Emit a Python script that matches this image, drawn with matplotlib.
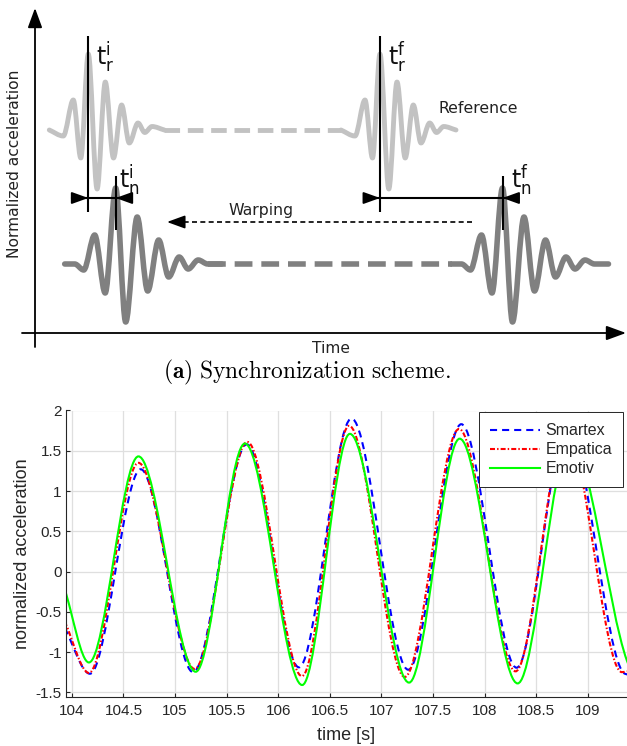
"""Synchronization scheme sketch (a) and the three aligned acceleration signals."""

import matplotlib

matplotlib.use("Agg")
import matplotlib.pyplot as plt
import numpy as np
from matplotlib.lines import Line2D
from matplotlib.patches import PathPatch
from matplotlib.path import Path

plt.rcParams["font.family"] = ["Liberation Sans", "DejaVu Sans"]

# ---- (a) sketch, in pixel units of the top panel ----
# reference wavelet: knot offsets from its main peak, and heights
ref_dx = [-39, -25, -15, -7.5, 0, 8.8, 17, 25.2, 33.3, 41, 49.7, 56.5, 63.7, 76]
ref_y = [130, 136, 100, 158, 54, 189, 82, 158, 105, 143, 123, 132.5, 126.5, 130]
ref_peaks = [88.3, 380.0]

# noisy (to be warped) wavelet
sig_dx = [-51, -41, -32, -21, -10.5, 0, 10, 21.5, 32, 43, 53, 63.5, 72.5, 82.5, 92, 106]
sig_y = [264, 264, 270, 235, 293, 188, 322, 217, 291, 240, 277, 257, 269, 260, 264, 264]
sig_peaks = [115.7, 502.5]

# ---- (b) acceleration traces: turning points ----
t_smartex = [103.93, 104.175, 104.667, 105.175, 105.695, 106.20, 106.71,
             107.26, 107.774, 108.31, 108.80, 109.36, 109.42]
v_smartex = [-0.70, -1.27, 1.27, -1.25, 1.58, -1.19, 1.90,
             -1.22, 1.83, -1.195, 1.80, -1.27, -1.29]

t_empatica = [103.93, 104.165, 104.645, 105.19, 105.70, 106.23, 106.687,
              107.226, 107.752, 108.30, 108.79, 109.33, 109.38]
v_empatica = [-0.62, -1.26, 1.35, -1.21, 1.61, -1.30, 1.81,
              -1.31, 1.77, -1.24, 1.75, -1.25, -1.24]

t_emotiv = [103.93, 104.165, 104.645, 105.20, 105.677, 106.232, 106.694,
            107.268, 107.758, 108.32, 108.83, 109.38, 109.47]
v_emotiv = [-0.22, -1.13, 1.43, -1.245, 1.59, -1.41, 1.71,
            -1.38, 1.65, -1.39, 1.62, -1.11, -1.38]

x_ticks = [104, 104.5, 105, 105.5, 106, 106.5, 107, 107.5, 108, 108.5, 109]
x_ticklabels = ["104", "104.5", "105", "105.5", "106", "106.5", "107",
                "107.5", "108", "108.5", "109"]
y_ticks = [-1.5, -1, -0.5, 0, 0.5, 1, 1.5, 2]
y_ticklabels = ["-1.5", "-1", "-0.5", "0", "0.5", "1", "1.5", "2"]


def smooth_path(xs, ys):
    """Monotone cubic through the knots, as a Bezier path."""
    xs = np.asarray(xs, float)
    ys = np.asarray(ys, float)
    h = np.diff(xs)
    d = np.diff(ys) / h
    m = np.zeros_like(ys)
    m[0], m[-1] = d[0], d[-1]
    for i in range(1, len(ys) - 1):
        if d[i - 1] * d[i] > 0:
            w1, w2 = 2 * h[i] + h[i - 1], h[i] + 2 * h[i - 1]
            m[i] = (w1 + w2) / (w1 / d[i - 1] + w2 / d[i])
    verts = [(xs[0], ys[0])]
    for i in range(len(h)):
        verts += [
            (xs[i] + h[i] / 3, ys[i] + m[i] * h[i] / 3),
            (xs[i + 1] - h[i] / 3, ys[i + 1] - m[i + 1] * h[i] / 3),
            (xs[i + 1], ys[i + 1]),
        ]
    return Path(verts, [Path.MOVETO] + [Path.CURVE4] * (len(verts) - 1))


W, H = 627, 746
fig = plt.figure(figsize=(W / 100, H / 100), dpi=100)

# ================= (a) =================
top = 356
ax0 = fig.add_axes([0, 1 - top / H, 1, top / H])
ax0.set_xlim(0, W)
ax0.set_ylim(top, 0)
ax0.axis("off")
sketch_font = ["DejaVu Sans"]

LIGHT, DARK = "#c2c2c2", "#808080"
dash_wave = (0, (3.2, 1.6))

for peak in ref_peaks:
    ax0.add_patch(PathPatch(smooth_path(np.add(ref_dx, peak), ref_y), fill=False,
                            ec=LIGHT, lw=3.5, capstyle="round", joinstyle="round"))
ax0.plot([ref_peaks[0] + ref_dx[-1], ref_peaks[1] + ref_dx[0]], [ref_y[0], ref_y[0]],
         color=LIGHT, lw=3.5, ls=dash_wave, solid_capstyle="butt")

for peak in sig_peaks:
    ax0.add_patch(PathPatch(smooth_path(np.add(sig_dx, peak), sig_y), fill=False,
                            ec=DARK, lw=4.0, capstyle="round", joinstyle="round"))
ax0.plot([sig_peaks[0] + sig_dx[-2], sig_peaks[1] + sig_dx[0]], [sig_y[0], sig_y[0]],
         color=DARK, lw=4.0, ls=dash_wave, solid_capstyle="butt")

# axes of the sketch
axis_arrow = dict(arrowstyle="-|>,head_length=0.6,head_width=0.22", color="black",
                  lw=1.3, shrinkA=0, shrinkB=0, mutation_scale=20)
ax0.annotate("", xy=(35, 8), xytext=(35, 347), arrowprops=axis_arrow,
             annotation_clip=False)
ax0.annotate("", xy=(626, 333), xytext=(22, 333), arrowprops=axis_arrow,
             annotation_clip=False)
ax0.text(15, 164, "Normalized acceleration", rotation=90, ha="center", va="center",
         fontsize=11.2, family=sketch_font, color="#222222")
ax0.text(331, 353, "Time", ha="center", va="baseline", fontsize=11.2,
         family=sketch_font, color="#222222")
ax0.text(438, 113, "Reference", ha="left", va="baseline", fontsize=11.3,
         family=sketch_font, color="#222222")
ax0.text(261, 215, "Warping", ha="center", va="baseline", fontsize=11.3,
         family=sketch_font, color="#222222")

# time markers
for x0, y0, y1 in [(88.3, 36, 212), (380, 36, 212), (115.7, 176, 230), (502.5, 176, 230)]:
    ax0.plot([x0, x0], [y0, y1], color="black", lw=1.5, solid_capstyle="butt")

tick_font = dict(fontsize=17, ha="left", va="baseline", color="#111111")
ax0.text(96, 65, r"$\mathsf{t}_{\mathsf{r}}^{\mathsf{i}}$", **tick_font)
ax0.text(388, 65, r"$\mathsf{t}_{\mathsf{r}}^{\mathsf{f}}$", **tick_font)
ax0.text(119, 188, r"$\mathsf{t}_{\mathsf{n}}^{\mathsf{i}}$", **tick_font)
ax0.text(511, 188, r"$\mathsf{t}_{\mathsf{n}}^{\mathsf{f}}$", **tick_font)

# offset bars with inward arrowheads
head = dict(arrowstyle="-|>,head_length=0.5,head_width=0.18", color="black", lw=1.3,
            shrinkA=0, shrinkB=0, mutation_scale=20)
for left, right, x_out_l, x_out_r in [(88.3, 115.7, 72, 131), (380, 502.5, 366, 518)]:
    ax0.plot([x_out_l, x_out_r], [198, 198], color="black", lw=1.5)
    ax0.annotate("", xy=(left, 198), xytext=(x_out_l, 198), arrowprops=head)
    ax0.annotate("", xy=(right, 198), xytext=(x_out_r, 198), arrowprops=head)

# warping arrow
ax0.plot([472, 178], [222, 222], color="black", lw=1.2, ls=(0, (3, 2)))
ax0.annotate("", xy=(167, 222), xytext=(182, 222),
             arrowprops=dict(arrowstyle="-|>,head_length=0.55,head_width=0.2",
                             color="black", lw=1.2, shrinkA=0, shrinkB=0,
                             mutation_scale=20))

fig.text(307 / W, 1 - 378 / H, r"$\mathbf{(a)}\ \mathrm{Synchronization\ scheme.}$",
         ha="center", va="baseline", fontsize=16.9, math_fontfamily="cm")

# ================= (b) =================
ax = fig.add_axes([65.7 / W, 1 - 696.7 / H, (W - 65.7) / W, (696.7 - 410.5) / H])

styles = [
    ("Smartex", t_smartex, v_smartex, "#0000ff", (0, (3.4, 2.4))),
    ("Empatica", t_empatica, v_empatica, "#ff0000", (0, (2.4, 1.0, 0.7, 1.0))),
    ("Emotiv", t_emotiv, v_emotiv, "#00ff00", "-"),
]
handles = []
for label, t, v, color, ls in styles:
    ax.add_patch(PathPatch(smooth_path(t, v), fill=False, ec=color, lw=1.5, ls=ls))
    handles.append(Line2D([], [], color=color, lw=1.5, ls=ls, label=label))

ink = "#262626"
ax.set_xlim(103.94, 109.38)
ax.set_ylim(-1.555, 2.0)
ax.set_xticks(x_ticks, x_ticklabels)
ax.set_yticks(y_ticks, y_ticklabels)
ax.grid(True, color="#dfdfdf", lw=0.9)
ax.set_axisbelow(True)
ax.tick_params(direction="in", length=3, width=0.8, color=ink, labelcolor=ink,
               labelsize=11)
ax.tick_params(axis="x", pad=5.5)
ax.tick_params(axis="y", pad=2.8)
for side in ("top", "right"):
    ax.spines[side].set_visible(False)
for side in ("left", "bottom"):
    ax.spines[side].set_color(ink)
    ax.spines[side].set_linewidth(0.8)

leg = ax.legend(handles=handles, loc="upper right", bbox_to_anchor=(0.993, 0.995),
                borderaxespad=0, fancybox=False, framealpha=1, fontsize=11.5,
                handlelength=3.1, handletextpad=0.35, labelspacing=0.25,
                borderpad=0.7)
leg.get_frame().set_edgecolor(ink)
leg.get_frame().set_linewidth(0.7)
for text in leg.get_texts():
    text.set_color(ink)

fig.text(22.5 / W, 1 - 553.6 / H, "normalized acceleration", rotation=90,
         ha="center", va="center", fontsize=13, color=ink)
fig.text(346 / W, 1 - 740 / H, "time [s]", ha="center", va="baseline",
         fontsize=13, color=ink)

fig.savefig("out.png", dpi=100)
plt.close(fig)
